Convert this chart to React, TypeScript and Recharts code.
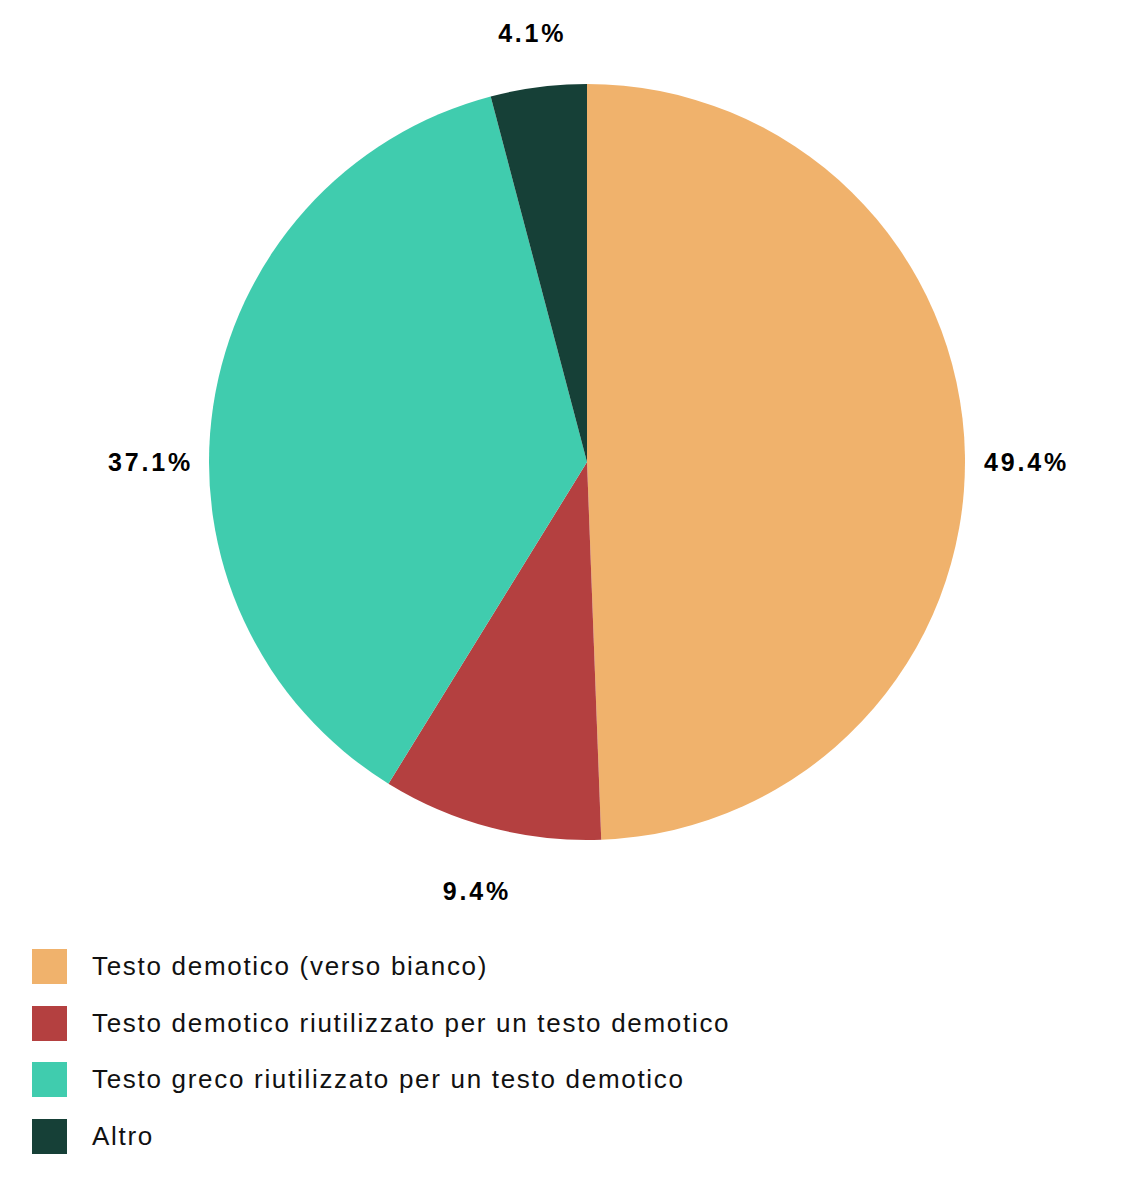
import { Cell, Legend, Pie, PieChart } from 'recharts';

const categories = [
    'Testo demotico (verso bianco)',
    'Testo demotico riutilizzato per un testo demotico',
    'Testo greco riutilizzato per un testo demotico',
    'Altro',
];
const shares = [49.4, 9.4, 37.1, 4.1];
const colors = ['#F0B26C', '#B44040', '#40CCAE', '#164037'];

const data = categories.map((name, i) => ({ name, value: shares[i] }));

const RADIAN = Math.PI / 180;
const FONT = '"Liberation Sans", Arial, Helvetica, sans-serif';
const LABEL_R = 438;

// labels close to the horizontal sit on the centre line, like the original
const renderLabel = (props: any) => {
    const { cx, cy, midAngle, value } = props;
    const cos = Math.cos(-midAngle * RADIAN);
    const sin = Math.sin(-midAngle * RADIAN);
    const flat = Math.abs(sin) < Math.sin(10 * RADIAN);
    const x = flat ? cx + Math.sign(cos) * LABEL_R : cx + LABEL_R * cos;
    const y = flat ? cy : cy + LABEL_R * sin + 5;
    return (
        <text
            x={x + 1.5}
            y={y}
            textAnchor="middle"
            dominantBaseline="central"
            fill="#000"
            fontSize={25}
            fontWeight="bold"
            fontFamily={FONT}
            letterSpacing={2.8}
        >
            {`${value.toFixed(1)}%`}
        </text>
    );
};

const renderLegend = () => (
    <div style={{ fontFamily: FONT }}>
        {categories.map((name, i) => (
            <div key={name} style={{ display: 'flex', alignItems: 'center', height: 56.7 }}>
                <span
                    style={{
                        display: 'inline-block',
                        width: 35,
                        height: 35,
                        background: colors[i],
                        marginRight: 25,
                    }}
                />
                <span style={{ fontSize: 26, letterSpacing: 1.7, color: '#111' }}>{name}</span>
            </div>
        ))}
    </div>
);

export default function App() {
    return (
        <div style={{ position: 'absolute', left: 0, top: 0, width: 1141, height: 1195, background: '#fff' }}>
            <PieChart width={1141} height={1195} margin={{ top: 0, right: 0, bottom: 0, left: 0 }}>
                <Pie
                    data={data}
                    dataKey="value"
                    nameKey="name"
                    cx={587}
                    cy={462}
                    outerRadius={378}
                    startAngle={90}
                    endAngle={-270}
                    stroke="none"
                    label={renderLabel}
                    labelLine={false}
                    isAnimationActive={false}
                >
                    {data.map((d, i) => (
                        <Cell key={d.name} fill={colors[i]} />
                    ))}
                </Pie>
                <Legend
                    content={renderLegend}
                    wrapperStyle={{ position: 'absolute', left: 32, top: 938, width: 1000 }}
                />
            </PieChart>
        </div>
    );
}
